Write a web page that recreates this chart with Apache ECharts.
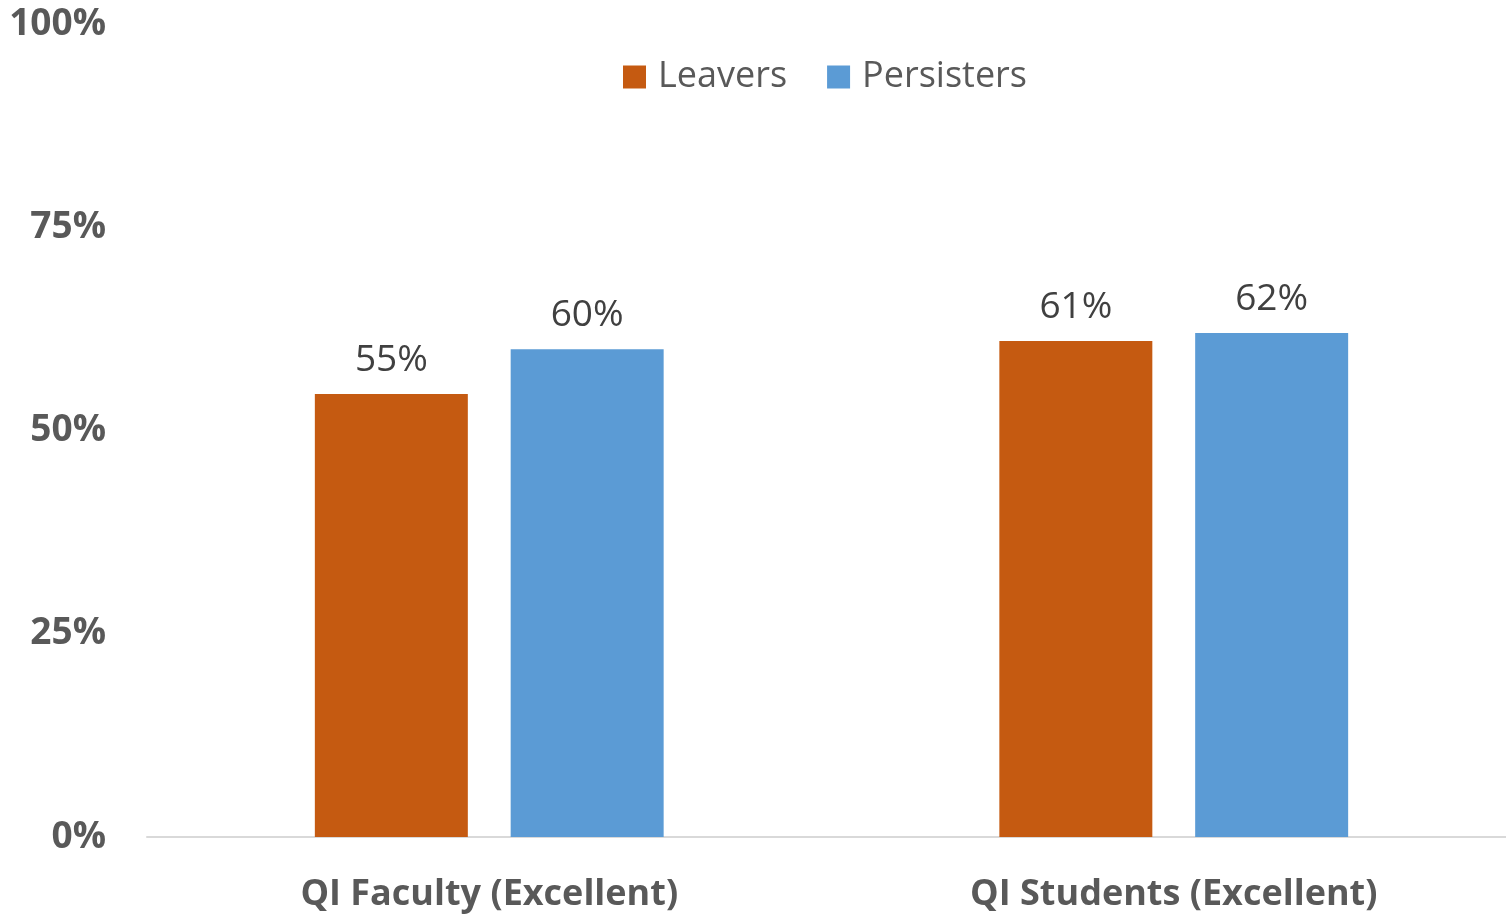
<!DOCTYPE html>
<html><head><meta charset="utf-8">
<script src="https://cdn.jsdelivr.net/npm/echarts@6/dist/echarts.min.js"></script>
<style>html,body{margin:0;padding:0;background:#fff}#c{width:1506px;height:915px}</style>
</head><body><div id="c"></div>
<script>
const categories = ['QI Faculty (Excellent)', 'QI Students (Excellent)'];
const leavers = [54.5, 61];
const persisters = [60, 62];
const yTicks = [0, 25, 50, 75, 100];
const FONT = '"Open Sans", sans-serif';
const chart = echarts.init(document.getElementById('c'));
const labelCfg = {show: true, position: 'top', distance: 15, color: '#404040', fontFamily: FONT, fontSize: 37,
  formatter: p => Math.round(p.value) + '%'};
chart.setOption({
  animation: false,
  textStyle: {fontFamily: FONT},
  legend: {top: 54, left: 618, itemWidth: 23, itemHeight: 23, itemGap: 40,
    icon: 'rect', textStyle: {fontSize: 36, color: '#595959', fontFamily: FONT, padding: [0, 0, 0, 7]}},
  grid: {left: 147, width: 1369, top: 24, bottom: 78, containLabel: false, outerBoundsMode: 'none'},
  xAxis: {type: 'category', data: categories,
    axisLine: {lineStyle: {color: '#D9D9D9', width: 2}}, axisTick: {show: false},
    axisLabel: {color: '#595959', fontWeight: 'bold', fontSize: 36, margin: 40, fontFamily: FONT}},
  yAxis: {type: 'value', min: 0, max: 100, interval: 25,
    axisLine: {show: false}, axisTick: {show: false}, splitLine: {show: false},
    axisLabel: {color: '#595959', fontWeight: 'bold', fontSize: 37, margin: 41, fontFamily: FONT,
      formatter: v => yTicks.includes(v) ? v + '%' : ''}},
  series: [
    {name: 'Leavers', type: 'bar', data: leavers, barWidth: '22.35%', barGap: '28%',
     itemStyle: {color: '#C55A11'}, label: labelCfg},
    {name: 'Persisters', type: 'bar', data: persisters, barWidth: '22.35%',
     itemStyle: {color: '#5B9BD5'}, label: labelCfg}
  ]
});
</script></body></html>
